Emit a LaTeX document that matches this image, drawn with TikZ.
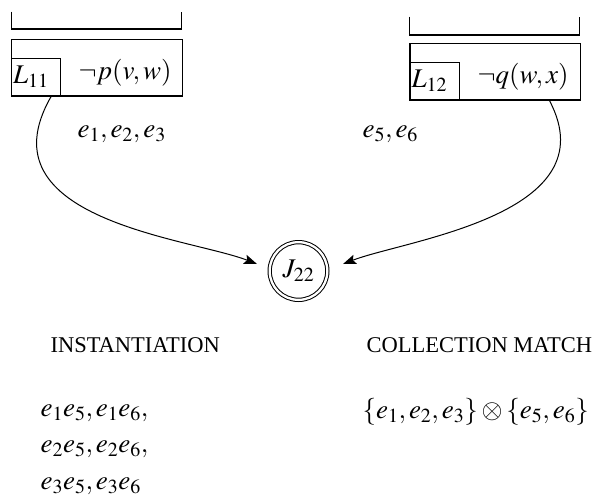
\documentclass[tikz,border=0pt]{standalone}
\usepackage{mathptmx}
\usepackage[no-math]{fontspec}
\setmainfont{Liberation Serif}
\usetikzlibrary{arrows.meta,calc}
\begin{document}
\begin{tikzpicture}[x=1pt,y=-1pt,
  line width=1.1pt,
  font=\fontsize{27}{32}\selectfont,
  box/.style={draw, inner sep=0pt, minimum width=170.7pt, minimum height=56.7pt},
  lbox/.style={draw, inner xsep=1.5pt, inner ysep=0pt, text width=46pt, align=left, minimum height=37.7pt},
  txt/.style={inner sep=0pt, anchor=base west},
  caps/.style={inner sep=0pt, anchor=base west, font=\fontsize{22.5}{27}\selectfont},
  jnode/.style={draw, circle, double, double distance=2.3pt, line width=1pt, minimum size=57.7pt, inner sep=0pt},
  conn/.style={-{Stealth[length=13pt,width=9.5pt,inset=2.5pt]}, line width=1pt}
]
\useasboundingbox (0,0) rectangle (605,499);

% left literal box
\draw (11.7,11.7) -- (11.7,29) -- (181.7,29) -- (181.7,11.7);
\node[box] (b1) at (96.7,67.65) {};
\node[lbox] (l11) at (36.2,77.15) {$L_{11}$};
\node[txt] (p) at (78,79) {$\neg p(v,w)$};

% right literal box
\draw (409.3,16.7) -- (409.3,35) -- (579.3,35) -- (579.3,16.7);
\node[box] (b2) at (495.35,71.65) {};
\node[lbox] (l12) at (434.65,81.15) {$L_{12}$};
\node[txt] (q) at (477,83) {$\neg q(w,x)$};

% join node
\node[jnode] (j) at (298.5,271) {$J_{22}$};

% connectors
\coordinate (jl) at ($(j.center)+(-41.5,-7)$);
\coordinate (jr) at ($(j.center)+(44.5,-7)$);
\draw[conn] ($(b1.south west)+(40.3,0)$) .. controls (-20,220) and (190,238) .. (jl);
\draw[conn] ($(b2.south west)+(140,0)$) .. controls (610,215) and (405,240) .. (jr);

% edge labels
\node[txt] (la) at (77,137) {$e_1,e_2,e_3$};
\node[txt] (lb) at (362,137) {$e_5,e_6$};

% headings
\node[caps] (h1) at (50,352) {INSTANTIATION};
\node[caps] (h2) at (366,352) {COLLECTION MATCH};

% instantiation list
\node[txt] (i1) at (40,416) {$e_1e_5,e_1e_6,$};
\node[txt] (i2) at (40,452.5) {$e_2e_5,e_2e_6,$};
\node[txt] (i3) at (40,489) {$e_3e_5,e_3e_6$};

% collection match
\node[txt] (cm) at (362,418) {$\{e_1,e_2,e_3\}\otimes\{e_5,e_6\}$};
\end{tikzpicture}
\end{document}
